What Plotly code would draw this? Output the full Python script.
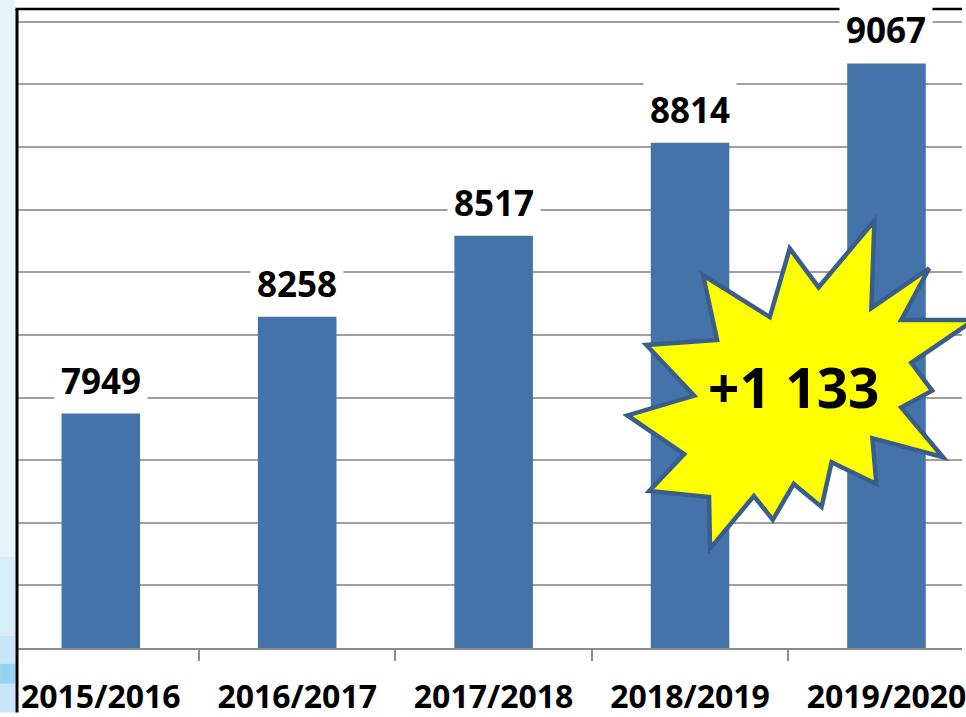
import plotly.graph_objects as go

seasons = ["2015/2016", "2016/2017", "2017/2018", "2018/2019", "2019/2020"]
values = [7949, 8258, 8517, 8814, 9067]
growth_label = "+1 133"

W, H = 966, 717
ML, MR, MT, MB = 17, 0, 9, 65
PW, PH = W - ML - MR, H - MT - MB

def px2paper(px, py):
    return (px - ML) / PW, (H - MB - py) / PH

BAR = "#4473AA"
EDGE = "#3A5E8C"

fig = go.Figure(go.Bar(
    x=seasons, y=values, marker=dict(color=BAR, line=dict(width=0)),
    hoverinfo="x+y",
))

annotations = []
for s, v in zip(seasons, values):
    annotations.append(dict(
        x=s, y=v, xref="x", yref="y", text=f"<b>{v}</b>", showarrow=False,
        yanchor="bottom", yshift=3, bgcolor="white", borderpad=6,
        font=dict(family="Open Sans", size=35, color="black"),
    ))

# starburst callout outline (pixel offsets converted to paper coords)
star_px = [(878, 222), (875, 310), (933, 270), (905, 322), (978, 322), (915, 365),
           (936, 393), (905, 410), (947, 460), (876, 441), (880, 487), (835, 465),
           (825, 510), (797, 487), (776, 523), (757, 499), (713, 552), (712, 500),
           (652, 494), (687, 457), (630, 418), (697, 398), (649, 347), (720, 342),
           (706, 277), (773, 319), (793, 250), (822, 289)]
pts = [px2paper(x, y) for x, y in star_px]
path = "M " + " L ".join(f"{x:.4f},{y:.4f}" for x, y in pts) + " Z"

shapes = []
# left decorative strip
for y0, y1, col in [(0, 560, "#E6F3FB"), (560, 640, "#D8EDF9"), (640, 717, "#C8E6F7")]:
    a = px2paper(0, y1); b = px2paper(15.5, y0)
    shapes.append(dict(type="rect", xref="paper", yref="paper", x0=a[0], y0=a[1],
                       x1=b[0], y1=b[1], fillcolor=col, line=dict(width=0), layer="below"))
a = px2paper(0, 688); b = px2paper(15.5, 668)
shapes.append(dict(type="rect", xref="paper", yref="paper", x0=a[0], y0=a[1],
                   x1=b[0], y1=b[1], fillcolor="#9AD3F1", line=dict(width=0), layer="below"))
shapes.append(dict(type="path", path=path, xref="paper", yref="paper",
                   fillcolor="#FFFF00", line=dict(color=EDGE, width=4.5), layer="above"))
# frame lines
p0 = px2paper(17, 9); p1 = px2paper(17, 717)
shapes.append(dict(type="line", xref="paper", yref="paper", x0=p0[0], y0=p0[1],
                   x1=p1[0], y1=p1[1], line=dict(color="black", width=3)))
p2 = px2paper(15.5, 9); p3 = px2paper(966, 9)
shapes.append(dict(type="line", xref="paper", yref="paper", x0=p2[0], y0=p2[1],
                   x1=p3[0], y1=p3[1], line=dict(color="black", width=2.5)))

cx, cy = px2paper(797, 389)
annotations.append(dict(x=cx, y=cy, xref="paper", yref="paper", text=f"<b>{growth_label}</b>",
                        showarrow=False, xanchor="center", yanchor="middle",
                        font=dict(family="Open Sans", size=55, color="black")))

fig.update_layout(
    width=W, height=H, margin=dict(l=ML, r=MR, t=MT, b=MB),
    paper_bgcolor="white", plot_bgcolor="white",
    bargap=0.6, showlegend=False,
    shapes=shapes, annotations=annotations,
    xaxis=dict(type="category", range=[-0.4265, 4.3845], tickson="boundaries",
               ticks="outside", ticklen=11, tickcolor="#8C8C8C", tickwidth=1.5,
               showline=True, linecolor="#8C8C8C", linewidth=1.5, showgrid=False,
               tickfont=dict(family="Open Sans", size=32, color="black"),
               ticklabelstandoff=20),
    yaxis=dict(range=[7200, 9241], dtick=200, tick0=7200, showgrid=True,
               gridcolor="#A0A0A0", gridwidth=1.5, showticklabels=False,
               zeroline=False, showline=False, ticks=""),
)
fig.update_xaxes(tickprefix="<b>", ticksuffix="</b>")

fig.write_html("out.html", config={"displayModeBar": False},
               post_script="document.body.style.margin='0';document.body.style.overflow='hidden';")
